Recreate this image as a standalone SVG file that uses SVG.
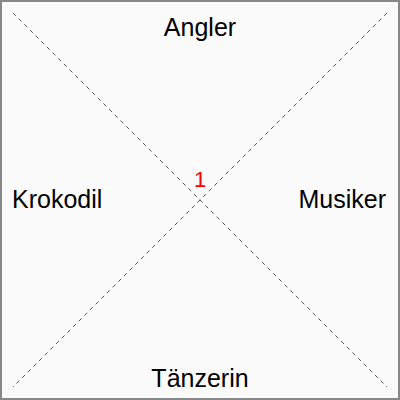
<svg xmlns="http://www.w3.org/2000/svg" width="400" height="400" viewBox="0 0 400 400">
<style>
.lbl{font-family:"Liberation Sans",Arial,sans-serif;font-size:25px;fill:#000}
.diag{stroke:#555;stroke-width:1;stroke-dasharray:4,4;fill:none}
</style>
<rect x="1" y="1" width="398" height="398" fill="#fafafa" stroke="#888" stroke-width="2"/>
<g id="connectors">
<line class="diag" x1="13" y1="13" x2="387" y2="387"/>
<line class="diag" x1="387" y1="13" x2="13" y2="387"/>
</g>
<g id="n-angler"><text class="lbl" x="200" y="36" text-anchor="middle">Angler</text></g>
<g id="n-krokodil"><text class="lbl" x="12" y="208">Krokodil</text></g>
<g id="n-musiker"><text class="lbl" x="386" y="208" text-anchor="end">Musiker</text></g>
<g id="n-taenzerin"><text class="lbl" x="200" y="387" text-anchor="middle">Tänzerin</text></g>
<g id="n-center"><text x="200" y="187" text-anchor="middle" style="font-family:'Liberation Sans',Arial,sans-serif;font-size:22px;fill:#f00">1</text></g>
</svg>
